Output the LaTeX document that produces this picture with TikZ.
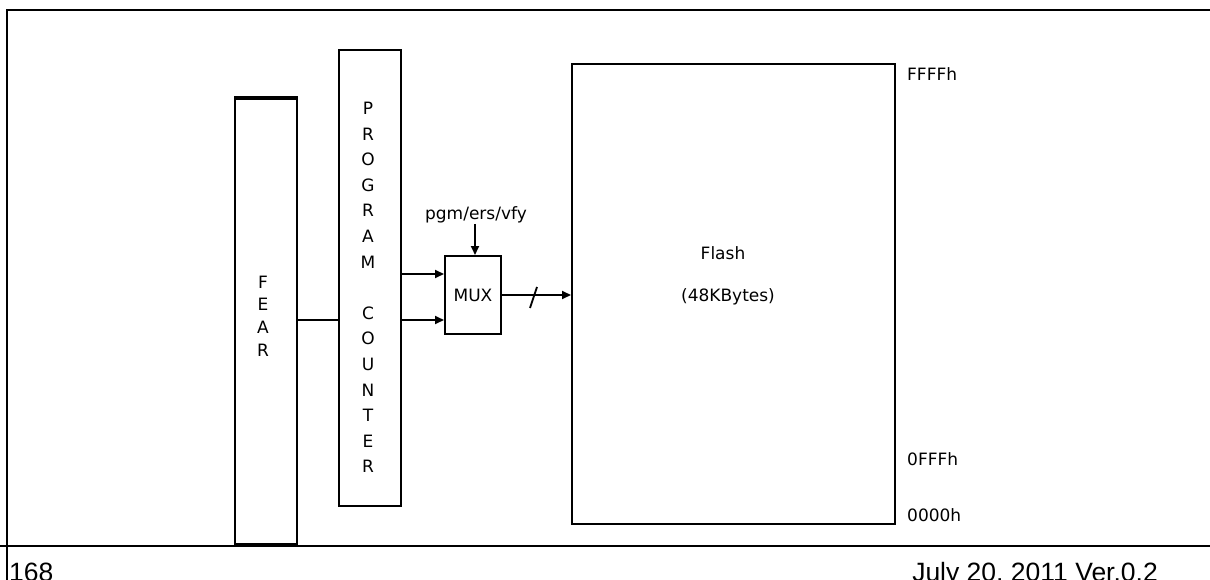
\documentclass[tikz,border=0pt]{standalone}
\usepackage{fontspec}
\setmainfont{DejaVu Sans}
\newfontfamily\footfont{Liberation Sans}
\usetikzlibrary{arrows.meta}
\begin{document}
\begin{tikzpicture}[x=1pt,y=-1pt,
  box/.style={draw,line width=2pt,inner sep=0pt},
  lbl/.style={inner sep=0pt,font=\fontsize{17}{20}\selectfont},
  conn/.style={line width=1.8pt},
  arr/.style={line width=1.8pt,-{Triangle[length=9pt,width=8pt]}},
  foot/.style={inner sep=0pt,font=\footfont\fontsize{26.5}{30}\selectfont}]
\useasboundingbox (0,0) rectangle (1210,580);
% frame
\draw[line width=2pt] (7,580) -- (7,10) -- (1210,10);
\draw[line width=2pt] (0,546) -- (1210,546);
% boxes
\node[box,minimum width=62pt,minimum height=445pt] (fear) at (266,321.5) {};
\draw[line width=3.5pt] (fear.north west) -- (fear.north east);
\draw[line width=3.5pt] (fear.south west) -- (fear.south east);
\node[box,minimum width=62pt,minimum height=456pt] (pc) at (370,278) {};
\node[box,minimum width=56pt,minimum height=78pt] (mux) at (473,295) {};
\node[box,minimum width=323pt,minimum height=460pt] (flash) at (733.5,294) {};
% texts
\node[lbl,align=center,font=\fontsize{17}{22.7}\selectfont] (feart) at (263,316) {F\\E\\A\\R};
\node[lbl,align=center,font=\fontsize{17}{25.6}\selectfont] (pct) at (368,287.5)
  {P\\R\\O\\G\\R\\A\\M\\[25.6pt]C\\O\\U\\N\\T\\E\\R};
\node[lbl] (muxt) at (mux.center) {MUX};
\node[lbl] (pgm) at (476,215) {pgm/ers/vfy};
\node[lbl] (fl) at (723,253) {Flash};
\node[lbl] (kb) at (728,297) {(48KBytes)};
\node[lbl,anchor=west] (a1) at (907,74) {FFFFh};
\node[lbl,anchor=west] (a2) at (907,459) {0FFFh};
\node[lbl,anchor=west] (a3) at (907,515) {0000h};
\node[foot,anchor=base west] (pg) at (9,581) {168};
\node[foot,anchor=base east] (date) at (1158,581) {July 20, 2011 Ver.0.2};
% connectors
\coordinate (yA) at (0,320);
\coordinate (yB) at (0,274);
\coordinate (pa) at (475,224);
\draw[conn] (fear.east |- yA) -- (pc.west |- yA);
\draw[arr] (pc.east |- yB) -- (mux.west |- yB);
\draw[arr] (pc.east |- yA) -- (mux.west |- yA);
\draw[arr] (pa) -- (pa |- mux.north);
\draw[arr] (mux.east) -- (mux.east -| flash.west);
\coordinate (s1) at (530,308);
\coordinate (s2) at (537,287);
\draw[conn] (s1) -- (s2);
\end{tikzpicture}
\end{document}
